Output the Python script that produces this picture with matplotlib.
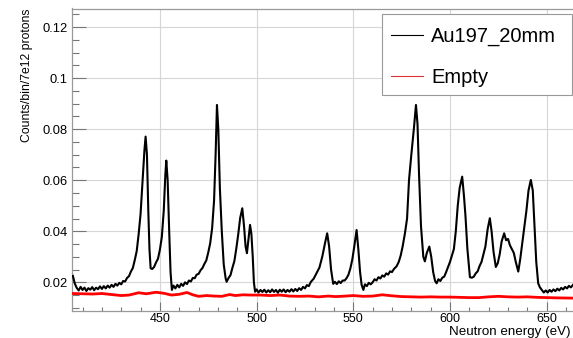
import matplotlib
matplotlib.use("Agg")
import matplotlib.pyplot as plt
from matplotlib.lines import Line2D
from matplotlib.patches import Rectangle
from matplotlib.ticker import MultipleLocator

# Au197_20mm spectrum (eV, counts/bin/7e12 protons)
au_energy = [
    405, 406, 407, 408, 409, 410, 411, 412, 413, 414, 415, 416, 417, 418, 419,
    420, 421, 422, 423, 424, 425, 426, 427, 428, 429, 430, 431, 432, 433, 434,
    435, 436, 437, 438, 439, 440, 441, 442, 442.6, 443.3, 444, 444.6, 445.2,
    446, 447, 448, 449, 450, 451, 452, 452.8, 453.3, 454, 454.8, 455.5, 456.2,
    457, 458, 459, 460, 461, 462, 463, 464, 465, 466, 467, 468, 469, 470, 471,
    472, 473, 474, 475, 476, 477, 478, 478.8, 479.5, 480.2, 481, 482, 483, 484,
    484.5, 485.5, 486.5, 487.5, 488.5, 489.5, 490.5, 491.5, 492.6, 493.5, 494.3,
    495, 495.8, 496.6, 497.3, 498, 498.6, 499.2, 500, 501, 502, 503, 504, 505,
    506, 507, 508, 509, 510, 511, 512, 513, 514, 515, 516, 517, 518, 519, 520,
    521, 522, 523, 524, 525, 526, 527, 528, 529.5, 531, 532.5, 534, 535.5, 536.5,
    537.5, 538.5, 539.6, 540.5, 541.5, 542.5, 543.5, 544.5, 545.5, 546.5, 547.5,
    548.5, 549.5, 550.5, 551.7, 552.6, 553.5, 554.3, 555.2, 556, 557, 558, 559,
    560, 561, 562, 563, 564, 565, 566, 567, 568, 569, 570, 571, 572.4, 573.5,
    574.5, 575.5, 576.7, 577.8, 578.8, 580, 581.3, 582.4, 583.2, 584, 585, 586.2,
    587, 588, 589.3, 590.3, 591.3, 592.3, 593.1, 594, 595, 596, 597, 598, 599,
    600, 601, 602, 603, 604, 605, 606.3, 607.2, 608, 609, 610.3, 611.3, 612.3,
    613.3, 614.3, 615.3, 616.3, 617.3, 618.3, 619.5, 620.6, 621.5, 622.5, 623.7,
    624.7, 625.7, 626.7, 628, 629, 630, 631, 632, 633, 634, 635.3, 636.3, 637.3,
    638.3, 639.5, 640.6, 641.8, 642.8, 643.7, 644.6, 645.6, 646.5, 647.5, 648.5,
    649.5, 650.5, 651.5, 652.5, 653.5, 654.5, 655.5, 656.5, 657.5, 658.5, 659.5,
    660.5, 661.5, 662.5, 663.6,
]
au_counts = [
    0.0225, 0.0195, 0.0178, 0.0168, 0.0182, 0.0170, 0.0179, 0.0166, 0.0177, 0.0171, 0.0181, 0.0169, 0.0179, 0.0173, 0.0184,
    0.0174, 0.0185, 0.0176, 0.0187, 0.0179, 0.0190, 0.0182, 0.0194, 0.0187, 0.0198, 0.0192, 0.0205, 0.0203, 0.0217, 0.0224,
    0.0242, 0.0256, 0.0287, 0.0322, 0.0388, 0.0468, 0.0592, 0.0718, 0.0771, 0.0700, 0.0480, 0.0330, 0.0255,
    0.0252, 0.0260, 0.0278, 0.0292, 0.0328, 0.0378, 0.0482, 0.0620, 0.0677, 0.0600, 0.0400, 0.0240, 0.0170,
    0.0187, 0.0176, 0.0190, 0.0180, 0.0194, 0.0186, 0.0200, 0.0193, 0.0207, 0.0203, 0.0217, 0.0216, 0.0230, 0.0233, 0.0247,
    0.0256, 0.0272, 0.0286, 0.0317, 0.0353, 0.0412, 0.0520, 0.0700, 0.0895, 0.0800, 0.0570, 0.0400, 0.0270, 0.0215,
    0.0202, 0.0217, 0.0228, 0.0257, 0.0283, 0.0332, 0.0388, 0.0452, 0.0490, 0.0420, 0.0340,
    0.0314, 0.0370, 0.0425, 0.0390, 0.0300, 0.0200, 0.0163, 0.0172, 0.0160, 0.0170, 0.0162, 0.0171, 0.0160,
    0.0169, 0.0161, 0.0172, 0.0162, 0.0170, 0.0159, 0.0171, 0.0163, 0.0172, 0.0161, 0.0170, 0.0163, 0.0173, 0.0164, 0.0174,
    0.0166, 0.0177, 0.0170, 0.0182, 0.0176, 0.0189, 0.0185, 0.0201, 0.0214, 0.0236, 0.0258, 0.0302, 0.0358, 0.0392,
    0.0340, 0.0250, 0.0194, 0.0202, 0.0193, 0.0204, 0.0197, 0.0207, 0.0207, 0.0216, 0.0230,
    0.0255, 0.0290, 0.0340, 0.0405, 0.0330, 0.0240, 0.0190, 0.0170, 0.0192, 0.0185, 0.0198, 0.0192,
    0.0200, 0.0212, 0.0207, 0.0220, 0.0215, 0.0227, 0.0222, 0.0235, 0.0230, 0.0243, 0.0240, 0.0252, 0.0263, 0.0280,
    0.0305, 0.0340, 0.0392, 0.0450, 0.0600, 0.0700, 0.0800, 0.0895, 0.0820, 0.0620, 0.0420, 0.0300,
    0.0282, 0.0315, 0.0340, 0.0300, 0.0240, 0.0205, 0.0196, 0.0212, 0.0205, 0.0218, 0.0222, 0.0240, 0.0260,
    0.0280, 0.0305, 0.0330, 0.0400, 0.0500, 0.0570, 0.0614, 0.0540, 0.0460, 0.0330, 0.0220, 0.0218, 0.0222,
    0.0235, 0.0243, 0.0264, 0.0280, 0.0310, 0.0340, 0.0410, 0.0451, 0.0400, 0.0320, 0.0260,
    0.0275, 0.0310, 0.0360, 0.0392, 0.0365, 0.0370, 0.0345, 0.0330, 0.0315, 0.0280, 0.0242, 0.0290, 0.0350,
    0.0410, 0.0480, 0.0560, 0.0601, 0.0560, 0.0420, 0.0280, 0.0196, 0.0180, 0.0170, 0.0160,
    0.0168, 0.0160, 0.0170, 0.0163, 0.0172, 0.0165, 0.0175, 0.0168, 0.0178, 0.0172, 0.0182,
    0.0176, 0.0186, 0.0180, 0.0190,
]

# Empty target run
empty_energy = [405, 410, 415, 420, 425, 430, 434, 439, 443, 448, 452, 456, 460, 464, 467,
                470, 474, 478, 482, 486, 489, 493, 497, 502, 507, 512, 517, 522, 527, 532,
                537, 541, 546, 550, 555, 560, 565, 570, 575, 580, 585, 590, 595, 600, 605,
                610, 615, 620, 625, 630, 635, 640, 645, 650, 655, 663.6]
empty_counts = [0.0156, 0.0155, 0.0154, 0.0156, 0.0152, 0.0148, 0.0150, 0.0159, 0.0155, 0.0161,
                0.0157, 0.0150, 0.0153, 0.0160, 0.0151, 0.0145, 0.0148, 0.0146, 0.0145, 0.0152,
                0.0148, 0.0151, 0.0150, 0.0150, 0.0148, 0.0150, 0.0146, 0.0145, 0.0146, 0.0143,
                0.0146, 0.0144, 0.0146, 0.0148, 0.0145, 0.0146, 0.0151, 0.0147, 0.0144, 0.0143,
                0.0142, 0.0143, 0.0142, 0.0142, 0.0141, 0.0140, 0.0140, 0.0143, 0.0145, 0.0143,
                0.0142, 0.0143, 0.0141, 0.0140, 0.0139, 0.0138]

series_labels = ["Au197_20mm", "Empty"]

plt.rcParams['font.family'] = ['Liberation Sans', 'DejaVu Sans']

fig = plt.figure(figsize=(5.73, 3.38), dpi=100)
ax = fig.add_axes([72.3 / 573, 1 - 311 / 338, 1 - 72.3 / 573, (311 - 8.5) / 338])

ax.plot(au_energy, au_counts, color='black', lw=1.5, zorder=3)
ax.plot(empty_energy, empty_counts, color='red', lw=2.0, zorder=4)

ax.set_xlim(404.7, 663.6)
ax.set_ylim(0.00875, 0.1273)

ax.xaxis.set_major_locator(MultipleLocator(50))
ax.xaxis.set_minor_locator(MultipleLocator(10))
ax.yaxis.set_minor_locator(MultipleLocator(0.005))
ax.set_yticks([0.02, 0.04, 0.06, 0.08, 0.1, 0.12])
ax.set_yticklabels(["0.02", "0.04", "0.06", "0.08", "0.1", "0.12"])

ax.grid(True, which='major', color='#d6d6d6', lw=0.8, zorder=0)
ax.tick_params(axis='both', which='both', direction='in', colors='#777777',
               labelcolor='black', labelsize=9.3, top=False, right=False)
ax.tick_params(axis='y', which='major', length=10, width=0.8)
ax.tick_params(axis='y', which='minor', length=5, width=0.8)
ax.tick_params(axis='x', which='major', length=6.5, width=0.8, pad=1.5,
               labelsize=9)
ax.tick_params(axis='x', which='minor', length=3.2, width=0.8)
for s in ax.spines.values():
    s.set_color('#999999')
    s.set_linewidth(0.9)
ax.spines['right'].set_visible(False)

fig.text(27 / 573, 1 - 8.3 / 338, "Counts/bin/7e12 protons", rotation=90,
         ha='center', va='top', fontsize=8.8)
fig.text(571 / 573, 0.001, "Neutron energy (eV)", ha='right',
         va='bottom', fontsize=9.6)

# legend box, ROOT style
ax.add_patch(Rectangle((381.7 / 573, 1 - 95 / 338), 190 / 573, 81 / 338,
                       transform=fig.transFigure, facecolor='white',
                       edgecolor='#999999', lw=0.8, zorder=9, clip_on=False))
handles = [Line2D([], [], color='black', lw=0.8), Line2D([], [], color='#e03030', lw=0.8)]
leg = ax.legend(handles, series_labels, loc='upper left',
                bbox_to_anchor=(0.618, 0.969), frameon=False,
                fontsize=14.5, borderpad=0.45, labelspacing=1.1,
                handlelength=1.6, handletextpad=0.4, borderaxespad=0)
leg.set_zorder(10)

fig.savefig("out.png", dpi=100)
